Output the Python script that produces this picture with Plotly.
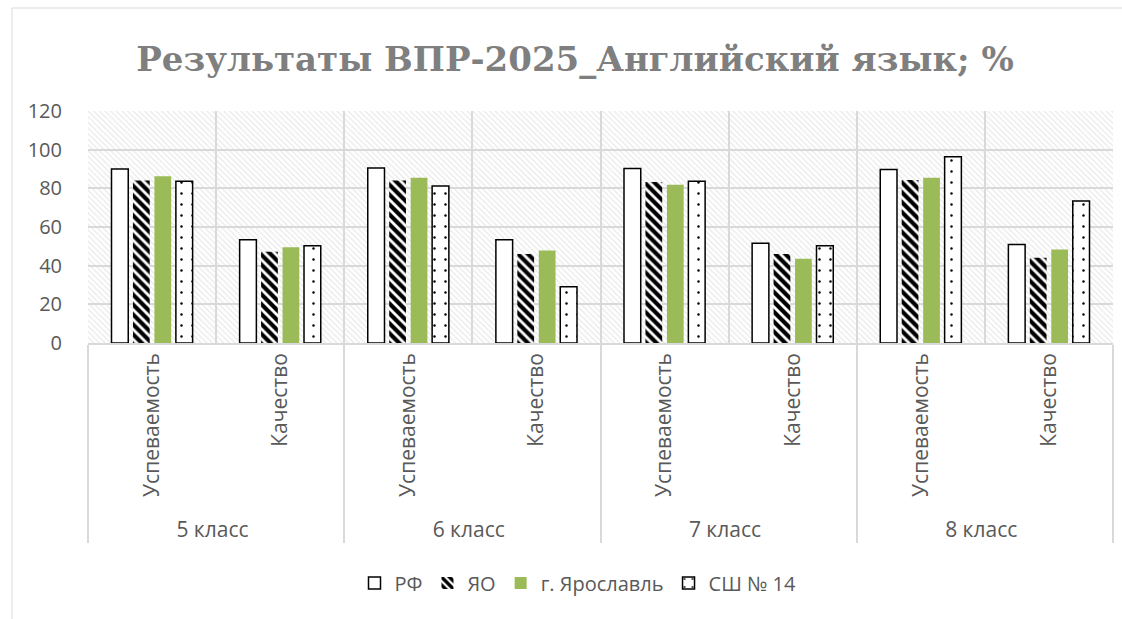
import plotly.graph_objects as go

grades = ["5 класс", "6 класс", "7 класс", "8 класс"]
metrics = ["Успеваемость", "Качество"]
series_names = ["РФ", "ЯО", "г. Ярославль", "СШ № 14"]
rf = [90.0, 53.4, 90.5, 53.4, 90.2, 51.6, 89.8, 50.9]
yo = [84.0, 47.2, 84.0, 46.0, 83.3, 46.0, 84.3, 44.1]
yar = [86.2, 49.5, 85.5, 47.8, 81.9, 43.6, 85.5, 48.4]
ssh = [83.6, 50.3, 81.2, 29.1, 83.6, 50.3, 96.4, 73.4]
y_ticks = [0, 20, 40, 60, 80, 100, 120]
title_text = "Результаты ВПР-2025_Английский язык; %"

W, H = 1122, 619
L, R, T, B = 88, 9, 111, 276
ph = H - T - B
pw = W - L - R

def px_x(x):
    return (x - L) / pw

def px_y(y):
    return (H - B - y) / ph

TXT = "#595959"
GRID = "#d9d9d9"
FONT = "Open Sans"

x_cats = [[g for g in grades for m in metrics], [m for g in grades for m in metrics]]

fig = go.Figure()

# hatched plot-area background
fig.add_trace(go.Bar(
    x=[0], y=[max(y_ticks)], width=[1], xaxis="x", yaxis="y",
    marker=dict(color="white", line=dict(width=0),
                pattern=dict(shape="\\", fgcolor="#d3d3d3", bgcolor="white", size=4, solidity=0.3)),
    showlegend=False, hoverinfo="skip"))

styles = [
    dict(color="white", line=dict(color="black", width=1.5)),
    dict(color="white", line=dict(width=0),
         pattern=dict(shape="\\", fgcolor="black", fgopacity=1, bgcolor="white", size=7, solidity=0.6)),
    dict(color="#9bbb59", line=dict(width=0)),
    dict(color="white", line=dict(color="black", width=1.5),
         pattern=dict(shape=".", fgcolor="black", fgopacity=1, bgcolor="white", size=11, solidity=0.04)),
]
for name, vals, st in zip(series_names, [rf, yo, yar, ssh], styles):
    fig.add_trace(go.Bar(x=x_cats, y=vals, name=name, marker=st, xaxis="x2", yaxis="y2"))

fig.update_layout(
    width=W, height=H,
    margin=dict(l=L, r=R, t=T, b=B),
    paper_bgcolor="white", plot_bgcolor="rgba(0,0,0,0)",
    barmode="group", bargap=0.33, bargroupgap=0.22,
    font=dict(family=FONT, size=20, color=TXT),
    title=dict(text=f"<b>{title_text}</b>", x=575 / W, xanchor="center", xref="container",
               y=1 - 59 / H, yanchor="middle", yref="container",
               font=dict(family="DejaVu Serif", size=34, color="#7f7f7f")),
    xaxis=dict(domain=[0, 1], anchor="y", range=[-0.5, 0.5], visible=False, showgrid=False),
    yaxis=dict(domain=[0, 1], anchor="x", range=[0, max(y_ticks)], visible=False, showgrid=False),
    xaxis2=dict(domain=[0, 1], anchor="y2", type="multicategory", tickangle=-90,
                showgrid=True, gridcolor=GRID, gridwidth=1.5,
                showline=True, linecolor=GRID, linewidth=1.5,
                showdividers=True, dividercolor=GRID, dividerwidth=1.5,
                ticks="", tickfont=dict(size=21, color=TXT)),
    yaxis2=dict(domain=[0, 1], anchor="x2", range=[0, max(y_ticks)], tickvals=y_ticks,
                showgrid=True, gridcolor=GRID, gridwidth=1.5, zeroline=False,
                ticks="", ticklabelstandoff=25, tickfont=dict(size=20, color=TXT)),
    legend=dict(orientation="h", x=px_x(578), xanchor="center",
                y=px_y(583), yanchor="middle", font=dict(size=20, color=TXT),
                itemwidth=30, traceorder="normal"),
    shapes=[dict(type="rect", xref="paper", yref="paper",
                 x0=px_x(12), x1=px_x(1135), y0=px_y(640), y1=px_y(8),
                 line=dict(color=GRID, width=1), fillcolor="rgba(0,0,0,0)", layer="below")],
)

fig.write_html("out.html", config={"displayModeBar": False},
               post_script="document.body.style.margin='0';")
